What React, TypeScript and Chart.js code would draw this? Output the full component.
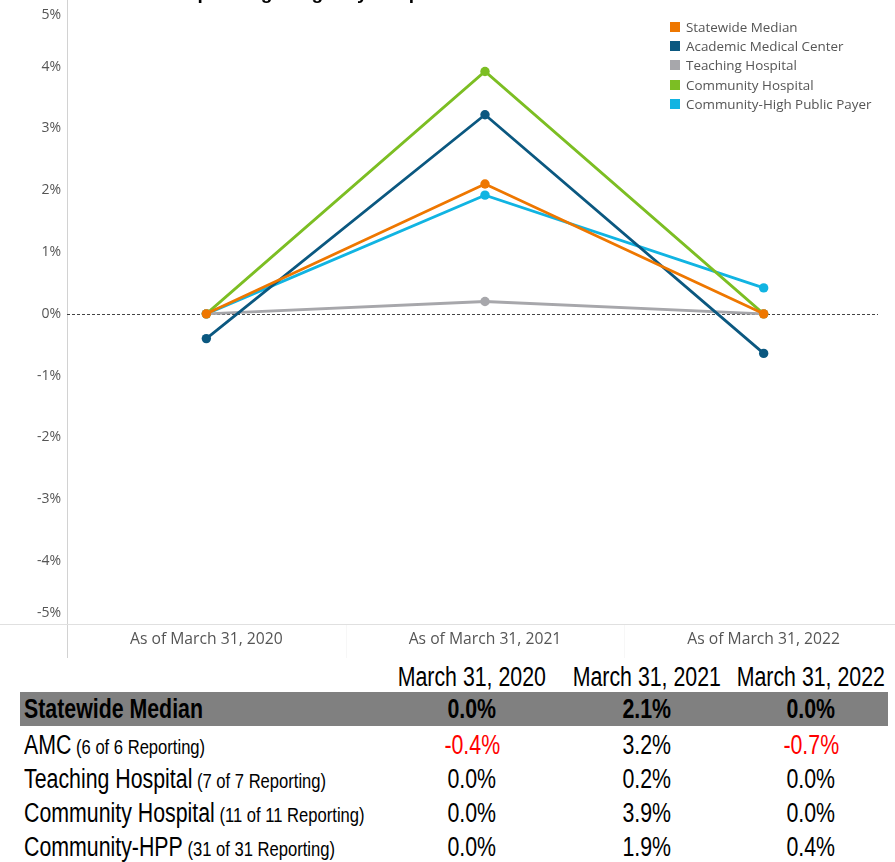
import React, { useEffect, useRef } from "react";
import { Chart, registerables } from "chart.js";

Chart.register(...registerables);

// ---------- DATA ----------
const categories = ["As of March 31, 2020", "As of March 31, 2021", "As of March 31, 2022"];
const seriesNames = [
  "Statewide Median",
  "Academic Medical Center",
  "Teaching Hospital",
  "Community Hospital",
  "Community-High Public Payer",
];
const statewideMedian = [0.0, 2.1, 0.0];
const academicMedicalCenter = [-0.4, 3.22, -0.64];
const teachingHospital = [0.0, 0.2, 0.0];
const communityHospital = [0.0, 3.92, 0.0];
const communityHighPublicPayer = [0.0, 1.92, 0.42];
const seriesColors = ["#EE7700", "#0B5880", "#A7A7AB", "#7CBE23", "#11B4E2"];
const yMin = -5;
const yMax = 5;
const yStep = 1;

const chartTitle = "Median Operating Margin by Hospital Cohort";

const tableHeaders = ["March 31, 2020", "March 31, 2021", "March 31, 2022"];
const tableRowNames = ["Statewide Median", "AMC", "Teaching Hospital", "Community Hospital", "Community-HPP"];
const tableRowNotes = ["", "(6 of 6 Reporting)", "(7 of 7 Reporting)", "(11 of 11 Reporting)", "(31 of 31 Reporting)"];
const statewideRow = [0.0, 2.1, 0.0];
const amcRow = [-0.4, 3.2, -0.7];
const teachingRow = [0.0, 0.2, 0.0];
const communityRow = [0.0, 3.9, 0.0];
const chppRow = [0.0, 1.9, 0.4];

const seriesData = [statewideMedian, academicMedicalCenter, teachingHospital, communityHospital, communityHighPublicPayer];
const tableRows = [statewideRow, amcRow, teachingRow, communityRow, chppRow];

// ---------- LAYOUT ----------
const CANVAS_W = 920;
const CANVAS_H = 660;
const PLOT_LEFT = 67;
const PLOT_TOP = 3;
const PLOT_BOTTOM = 623;
const LABEL_FONT = "'Open Sans', 'Noto Sans', sans-serif";
const TABLE_FONT = "'Liberation Sans', Arial, sans-serif";
const TABLE_SIZE = 27;
const SQUEEZE = 0.79;

const decorPlugin = {
  id: "decor",
  beforeDatasetsDraw(chart: any) {
    const { ctx, chartArea, scales } = chart;
    const y = scales.y;
    const x = scales.x;
    ctx.save();
    ctx.strokeStyle = "#d2d2d2";
    ctx.lineWidth = 1;
    ctx.beginPath();
    ctx.moveTo(chartArea.left + 0.5, 0);
    ctx.lineTo(chartArea.left + 0.5, CANVAS_H - 2);
    ctx.stroke();
    ctx.strokeStyle = "#e0e0e0";
    ctx.beginPath();
    ctx.moveTo(0, chartArea.bottom + 1.5);
    ctx.lineTo(CANVAS_W, chartArea.bottom + 1.5);
    ctx.stroke();
    ctx.strokeStyle = "#f7f7f7";
    for (let i = 0; i < categories.length - 1; i++) {
      const bx = Math.round((x.getPixelForValue(i) + x.getPixelForValue(i + 1)) / 2) + 0.5;
      ctx.beginPath();
      ctx.moveTo(bx, chartArea.bottom + 2);
      ctx.lineTo(bx, CANVAS_H - 2);
      ctx.stroke();
    }
    const zy = Math.round(y.getPixelForValue(0)) + 0.5;
    ctx.strokeStyle = "#444";
    ctx.setLineDash([3, 2]);
    ctx.beginPath();
    ctx.moveTo(chartArea.left, zy);
    ctx.lineTo(chartArea.right - 25, zy);
    ctx.stroke();
    ctx.setLineDash([]);
    ctx.restore();
  },
  afterDraw(chart: any) {
    const { ctx, chartArea, scales } = chart;
    const y = scales.y;
    ctx.save();
    ctx.font = `14px ${LABEL_FONT}`;
    ctx.fillStyle = "#555";
    ctx.textAlign = "right";
    ctx.textBaseline = "middle";
    y.ticks.forEach((t: any) => {
      let py = y.getPixelForValue(t.value);
      py = Math.max(chartArea.top + 10, Math.min(chartArea.bottom - 10, py));
      ctx.fillText(`${t.value}%`, 61, py);
    });
    ctx.font = "bold 19px 'Liberation Sans', Arial, sans-serif";
    ctx.fillStyle = "#000";
    ctx.textAlign = "left";
    ctx.textBaseline = "alphabetic";
    ctx.fillText(chartTitle, 112, -1);
    ctx.restore();
  },
};

function fmt(v: number) {
  return `${v.toFixed(1)}%`;
}

function Squeezed({ children, origin }: { children: any; origin: string }) {
  return (
    <span
      style={{
        display: "inline-block",
        transform: `scaleX(${SQUEEZE})`,
        transformOrigin: origin,
        whiteSpace: "nowrap",
      }}
    >
      {children}
    </span>
  );
}

export default function App() {
  const canvasRef = useRef<HTMLCanvasElement | null>(null);

  useEffect(() => {
    if (!canvasRef.current) return;
    const chart = new Chart(canvasRef.current, {
      type: "line",
      data: {
        labels: categories,
        datasets: seriesNames.map((name, i) => ({
          label: name,
          data: seriesData[i],
          borderColor: seriesColors[i],
          backgroundColor: seriesColors[i],
          pointBackgroundColor: seriesColors[i],
          pointBorderColor: seriesColors[i],
          borderWidth: 2.8,
          pointRadius: 4.7,
          pointBorderWidth: 0,
          tension: 0,
          fill: false,
        })),
      },
      options: {
        animation: false,
        responsive: false,
        devicePixelRatio: 1,
        layout: { padding: { top: PLOT_TOP, right: 17, left: 0, bottom: 0 } },
        plugins: {
          legend: { display: false },
          tooltip: { enabled: false },
          title: { display: false },
        },
        scales: {
          x: {
            type: "category",
            offset: true,
            grid: { display: false, drawTicks: false },
            border: { display: false },
            ticks: {
              color: "#555",
              font: { family: LABEL_FONT, size: 15.7 },
              padding: 7,
              maxRotation: 0,
              autoSkip: false,
            },
            afterFit(scale: any) {
              scale.height = CANVAS_H - PLOT_BOTTOM;
            },
          },
          y: {
            min: yMin,
            max: yMax,
            ticks: { stepSize: yStep, display: false },
            grid: { display: false, drawTicks: false },
            border: { display: false },
            afterFit(scale: any) {
              scale.width = PLOT_LEFT;
            },
          },
        },
      },
      plugins: [decorPlugin],
    });
    return () => chart.destroy();
  }, []);

  const colCenters = [472, 647, 811];
  const rowTops = [692, 728, 762, 796, 830];
  const textShift = 2;

  return (
    <div
      style={{
        position: "fixed",
        left: 0,
        top: 0,
        width: 895,
        height: 862,
        overflow: "hidden",
        background: "#fff",
      }}
    >
      <canvas
        ref={canvasRef}
        width={CANVAS_W}
        height={CANVAS_H}
        style={{ position: "absolute", left: 0, top: 0, width: CANVAS_W, height: CANVAS_H }}
      />
      {/* legend */}
      <div style={{ position: "absolute", left: 670, top: 17 }}>
        {seriesNames.map((name, i) => (
          <div key={name} style={{ height: 19.3, display: "flex", alignItems: "center" }}>
            <div style={{ width: 10, height: 10, background: seriesColors[i], marginRight: 6 }} />
            <span style={{ font: `13.4px ${LABEL_FONT}`, color: "#555", whiteSpace: "nowrap" }}>{name}</span>
          </div>
        ))}
      </div>
      {/* table header */}
      {tableHeaders.map((h, c) => (
        <div
          key={h}
          style={{
            position: "absolute",
            left: colCenters[c] - 100,
            width: 200,
            top: 660 + textShift,
            height: 34,
            lineHeight: "34px",
            textAlign: "center",
            font: `${TABLE_SIZE}px ${TABLE_FONT}`,
            color: "#000",
          }}
        >
          <Squeezed origin="center">{h}</Squeezed>
        </div>
      ))}
      {/* table rows */}
      {tableRowNames.map((name, r) => {
        const isHead = r === 0;
        return (
          <React.Fragment key={name}>
            {isHead ? (
              <div
                style={{
                  position: "absolute",
                  left: 20,
                  top: rowTops[r],
                  width: 868,
                  height: 34,
                  background: "#808080",
                }}
              />
            ) : null}
            <div
              style={{
                position: "absolute",
                left: 24,
                top: rowTops[r] + textShift,
                height: 34,
                lineHeight: "34px",
                whiteSpace: "nowrap",
                font: `${isHead ? "bold " : ""}${TABLE_SIZE}px ${TABLE_FONT}`,
                color: "#000",
              }}
            >
              <Squeezed origin="left center">
                {name}
                {tableRowNotes[r] ? <span style={{ fontSize: 21 }}> {tableRowNotes[r]}</span> : null}
              </Squeezed>
            </div>
            {tableRows[r].map((v, c) => (
              <div
                key={c}
                style={{
                  position: "absolute",
                  left: colCenters[c] - 100,
                  width: 200,
                  top: rowTops[r] + textShift,
                  height: 34,
                  lineHeight: "34px",
                  textAlign: "center",
                  whiteSpace: "nowrap",
                  font: `${isHead ? "bold " : ""}${TABLE_SIZE}px ${TABLE_FONT}`,
                  color: v < 0 ? "#FF0000" : "#000",
                }}
              >
                <Squeezed origin="center">{fmt(v)}</Squeezed>
              </div>
            ))}
          </React.Fragment>
        );
      })}
    </div>
  );
}
